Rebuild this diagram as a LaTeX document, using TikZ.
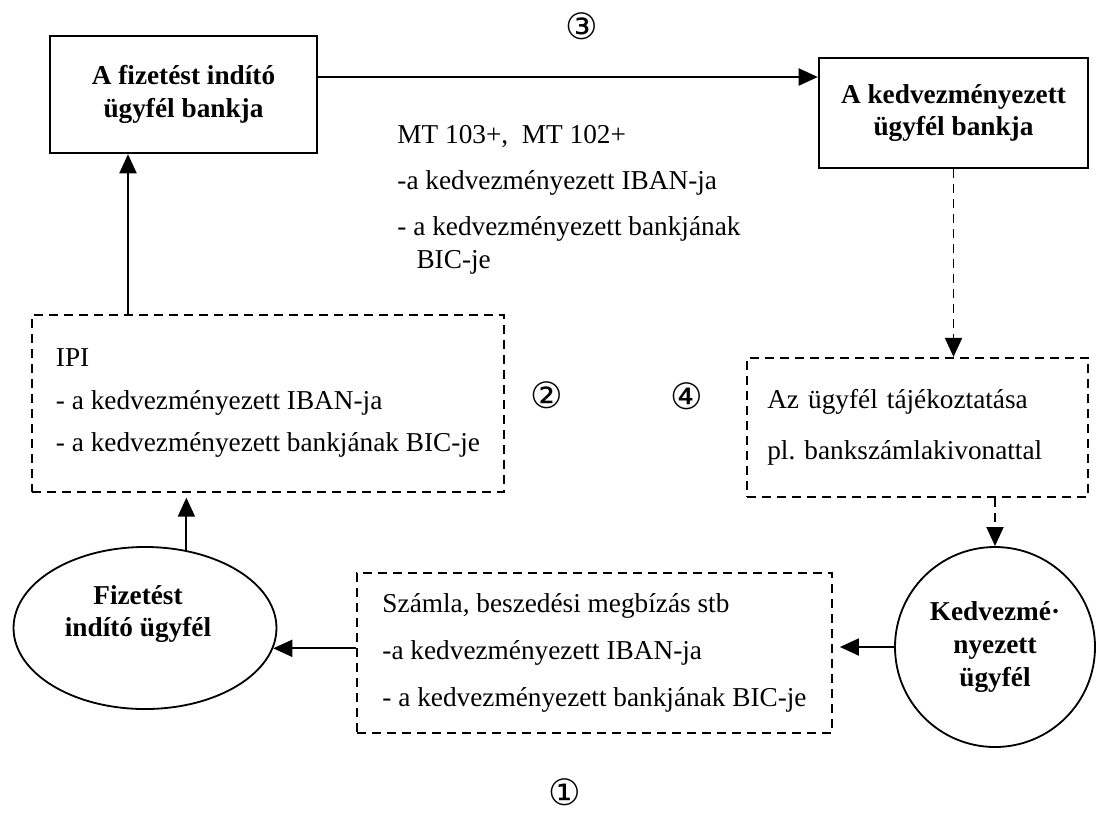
\documentclass[tikz,border=0pt]{standalone}
\usepackage{fontspec}
\setmainfont{Liberation Serif}
\newfontfamily\numfont{DejaVu Sans}
\usetikzlibrary{arrows.meta,shapes.geometric}
\frenchspacing

\tikzset{
  boldtxt/.style={font=\fontsize{12}{14.4}\selectfont\bfseries, align=center},
  bankbox/.style={boldtxt, draw, line width=1pt},
  infobox/.style={draw, line width=0.9pt, dash pattern=on 4pt off 2.6pt, align=left, inner xsep=9pt},
  ugyfel/.style={boldtxt, draw, line width=0.8pt, inner sep=0pt},
  arr/.style={line width=0.8pt, -{Triangle[length=8.4pt,width=7.5pt]}},
  darr/.style={arr, dash pattern=on 4pt off 2.6pt},
  szam/.style={font=\numfont\fontsize{16}{18}\selectfont, inner sep=0pt}
}

\begin{document}
\begin{tikzpicture}[x=0.44pt, y=-0.44pt, font=\fontsize{12}{14.4}\selectfont]
    \useasboundingbox (0,0) rectangle (1096,818);

    % Bankok
    \node[bankbox, minimum width=117.5pt, minimum height=51.5pt] (fbank) at (183.5,94.5) {A fizetést indító\\ügyfél bankja};
    \node[bankbox, minimum width=118.4pt, minimum height=48.4pt] (kbank) at (953.5,113) {A kedvezményezett\\ügyfél bankja};

    % Szaggatott dobozok
    \node[infobox, minimum width=207.7pt, minimum height=77.9pt] (ipi) at (268,403.5)
        {IPI\\[4.3pt]- a kedvezményezett IBAN-ja\\[4.3pt]- a kedvezményezett bankjának BIC-je};
    \node[infobox, minimum width=150pt, minimum height=61.2pt, text width=132.2pt] (az) at (917.5,427.5)
        {Az ügyfél tájékoztatása\\[8pt]pl. bankszámlakivonattal};
    \node[infobox, minimum width=209pt, minimum height=70.4pt] (szamla) at (594.5,653)
        {Számla, beszedési megbízás stb\\[6.3pt]-a kedvezményezett IBAN-ja\\[6.3pt]- a kedvezményezett bankjának BIC-je};

    % Üzenet szövege
    \node[anchor=north west, align=left, inner sep=0pt] (mt) at (397,125)
        {MT 103+,~ MT 102+\\[5.8pt]-a kedvezményezett IBAN-ja\\[5.8pt]- a kedvezményezett bankjának\\\hspace*{8.4pt}BIC-je};

    % Ügyfelek
    \node[ugyfel, ellipse, minimum width=115.7pt, minimum height=71.3pt] (fiz) at (145,628) {};
    \node[boldtxt] (fiztxt) at (138,614) {Fizetést\\indító ügyfél};
    \node[ugyfel, circle, minimum size=88pt] (kedv) at (995,647) {Kedvezmé·\\nyezett\\ügyfél};

    % Nyilak
    \coordinate (up1) at (128,0);
    \coordinate (top) at (0,77);
    \draw[arr] (fbank.east |- top) -- (kbank.west |- top);
    \draw[arr] (ipi.north -| up1) -- (fbank.south -| up1);
    \draw[arr, shorten >=2pt] (fiz.62.6) -- (fiz.62.6 |- ipi.south);
    \draw[arr, shorten >=3pt] (kedv.west) -- (kedv.west -| szamla.east);
    \draw[arr] (szamla.west |- fiz.-9.4) -- (fiz.-9.4);
    \draw[darr] (kbank.south) -- (kbank.south |- az.north);
    \draw[darr] (kedv.north |- az.south) -- (kedv.north);

    % Sorszámok
    \node[szam] (n1) at (565,792) {①};
    \node[szam] (n2) at (547,395) {②};
    \node[szam] (n3) at (582,26) {③};
    \node[szam] (n4) at (687,396) {④};
\end{tikzpicture}
\end{document}
